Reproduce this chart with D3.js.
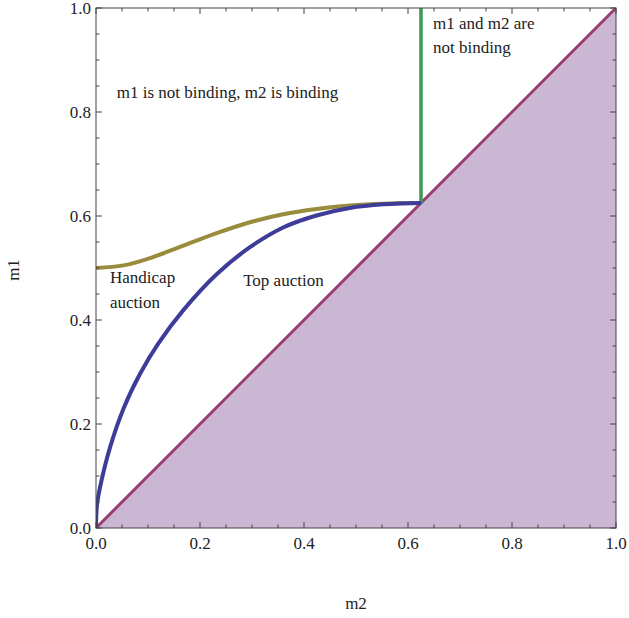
<!DOCTYPE html>
<html>
<head>
<meta charset="utf-8">
<script src="https://cdn.jsdelivr.net/npm/d3@7"></script>
<style>
  html, body { margin: 0; padding: 0; background: #fff; }
  svg { display: block; }
  text { font-family: "Liberation Serif", "Times New Roman", serif; fill: #222; }
</style>
</head>
<body>
<svg id="chart" width="629" height="618"></svg>
<script>
// ---- data ----
const tickValues = [0, 0.2, 0.4, 0.6, 0.8, 1.0];
const tickLabels = ["0.0", "0.2", "0.4", "0.6", "0.8", "1.0"];
const minorTickValues = d3.range(0, 21).map(i => i / 20);

// Top auction curve (blue)
const topM2 = [0, 0.0005, 0.002, 0.0077, 0.027, 0.053, 0.085, 0.12, 0.168, 0.232, 0.296, 0.36, 0.424, 0.488, 0.553, 0.625];
const topM1 = [0, 0.022, 0.045, 0.078, 0.155, 0.23, 0.297, 0.355, 0.419, 0.488, 0.54, 0.578, 0.601, 0.6155, 0.6225, 0.625];

// Handicap auction curve (gold)
const hcM2 = [0, 0.053, 0.104, 0.168, 0.232, 0.296, 0.36, 0.424, 0.488, 0.553, 0.625];
const hcM1 = [0.5, 0.505, 0.519, 0.543, 0.567, 0.588, 0.6035, 0.6135, 0.6202, 0.6238, 0.625];

// Diagonal m1 = m2 (purple), region below shaded
const diagM2 = [0, 1];
const diagM1 = [0, 1];

// Vertical boundary (green)
const vM2 = [0.625, 0.625];
const vM1 = [0.625, 1.0];

const annotations = [
  { text: ["m1 is not binding, m2 is binding"], x: 0.04, y: 0.826 },
  { text: ["m1 and m2 are", "not binding"], x: 0.648, y: 0.96 },
  { text: ["Handicap", "auction"], x: 0.027, y: 0.471 },
  { text: ["Top auction"], x: 0.283, y: 0.466 }
];

// ---- layout ----
const svg = d3.select("#chart");
const L = 96, T = 8, W = 520, H = 520;
const x = d3.scaleLinear().domain([0, 1]).range([L, L + W]);
const y = d3.scaleLinear().domain([0, 1]).range([T + H, T]);

svg.append("defs").append("clipPath").attr("id", "clip")
  .append("rect").attr("x", L).attr("y", T).attr("width", W).attr("height", H);

const plot = svg.append("g").attr("clip-path", "url(#clip)");

// shaded region below diagonal
const diagPts = diagM2.map((v, i) => [v, diagM1[i]]);
plot.append("path")
  .datum(diagPts)
  .attr("fill", "#cbb6d3")
  .attr("d", d3.area().x(d => x(d[0])).y0(y(0)).y1(d => y(d[1])));

const line = d3.line().x(d => x(d[0])).y(d => y(d[1]));
const smooth = d3.line().x(d => x(d[0])).y(d => y(d[1])).curve(d3.curveCatmullRom.alpha(0.5));

plot.append("path")
  .datum(diagPts)
  .attr("fill", "none").attr("stroke", "#993d71").attr("stroke-width", 3)
  .attr("d", line);

plot.append("path")
  .datum(vM2.map((v, i) => [v, vM1[i]]))
  .attr("fill", "none").attr("stroke", "#3d9a54").attr("stroke-width", 3.5)
  .attr("d", line);

plot.append("path")
  .datum(hcM2.map((v, i) => [v, hcM1[i]]))
  .attr("fill", "none").attr("stroke", "#998c3d").attr("stroke-width", 4)
  .attr("d", smooth);

plot.append("path")
  .datum(topM2.map((v, i) => [v, topM1[i]]))
  .attr("fill", "none").attr("stroke", "#3d3d99").attr("stroke-width", 4)
  .attr("d", smooth);

// frame
svg.append("rect").attr("x", L).attr("y", T).attr("width", W).attr("height", H)
  .attr("fill", "none").attr("stroke", "#444").attr("stroke-width", 1);

// ticks (inward, all four sides)
const isMajor = v => tickValues.some(t => Math.abs(t - v) < 1e-9);
const tickG = svg.append("g").attr("stroke", "#444").attr("stroke-width", 1);
minorTickValues.forEach(v => {
  const len = isMajor(v) ? 6 : 3.5;
  const px = x(v), py = y(v);
  tickG.append("line").attr("x1", px).attr("x2", px).attr("y1", T + H).attr("y2", T + H - len);
  tickG.append("line").attr("x1", px).attr("x2", px).attr("y1", T).attr("y2", T + len);
  tickG.append("line").attr("y1", py).attr("y2", py).attr("x1", L).attr("x2", L + len);
  tickG.append("line").attr("y1", py).attr("y2", py).attr("x1", L + W).attr("x2", L + W - len);
});

// tick labels
const fs = 17;
tickValues.forEach((v, i) => {
  svg.append("text").attr("x", x(v)).attr("y", T + H + 21)
    .attr("text-anchor", "middle").attr("font-size", fs).text(tickLabels[i]);
  svg.append("text").attr("x", L - 5).attr("y", y(v) + 6)
    .attr("text-anchor", "end").attr("font-size", fs).text(tickLabels[i]);
});

// axis titles
svg.append("text").attr("x", 356).attr("y", 609).attr("text-anchor", "middle")
  .attr("font-size", fs).text("m2");
svg.append("text").attr("transform", "translate(19,270) rotate(-90)")
  .attr("text-anchor", "middle").attr("font-size", fs).text("m1");

// annotations
annotations.forEach(a => {
  const t = svg.append("text").attr("font-size", fs);
  a.text.forEach((s, i) => {
    t.append("tspan").attr("x", x(a.x)).attr("y", y(a.y) + i * 24.5).text(s);
  });
});
</script>
</body>
</html>
